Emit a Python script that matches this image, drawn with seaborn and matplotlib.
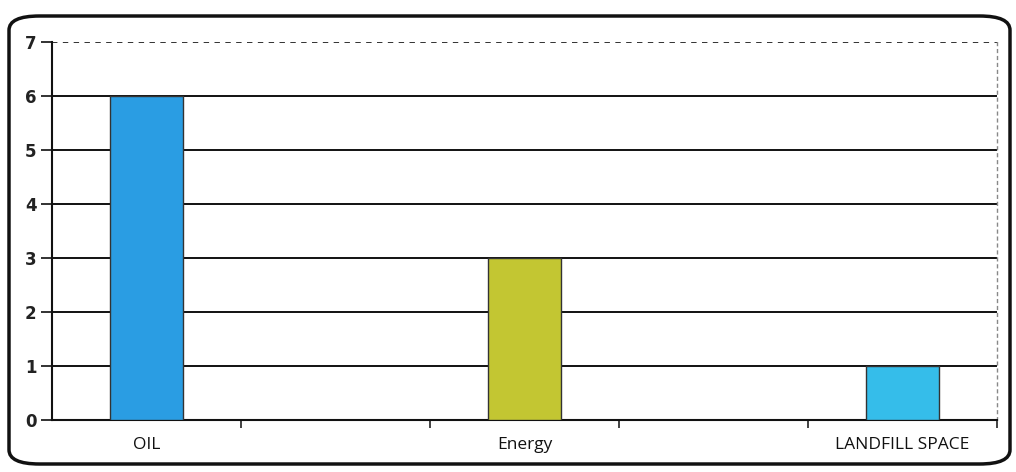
import numpy as np
import pandas as pd
import matplotlib
matplotlib.use("Agg")
import matplotlib.pyplot as plt
import seaborn as sns
from matplotlib.patches import FancyBboxPatch

# data
categories = ["OIL", "Energy", "LANDFILL SPACE"]
values = [6, 3, 1]
slot_order = ["OIL", " ", "Energy", "  ", "LANDFILL SPACE"]
bar_colors = ["#2a9de3", "#c3c632", "#35bdea"]
y_ticks = [0, 1, 2, 3, 4, 5, 6, 7]

sns.set_theme(style="white")
plt.rcParams["font.family"] = ["Open Sans", "DejaVu Sans"]

fig = plt.figure(figsize=(10.16, 4.72), dpi=100)
ax = fig.add_axes([52/1016, 1 - 420/472, (997-52)/1016, (420-42)/472])

df = pd.DataFrame({"cat": categories, "val": values})
sns.barplot(data=df, x="cat", y="val", order=slot_order, hue="cat",
            palette=dict(zip(categories, bar_colors)), legend=False, saturation=1,
            width=0.39, edgecolor="#333333", linewidth=1.0, ax=ax, zorder=3)

ax.set_ylim(0, 7)
ax.set_xlim(-0.5, 4.5)
ax.set_yticks(y_ticks)
ax.set_yticklabels([str(t) for t in y_ticks], fontsize=12, fontweight="bold",
                   color="#222222", family="DejaVu Sans")
for t in y_ticks[1:-1]:
    ax.axhline(t, color="#111111", linewidth=1.4, zorder=1)
ax.axhline(7, color="#222222", linewidth=1.3, linestyle=(0, (3, 3)), zorder=1)

ax.set_xlabel("")
ax.set_ylabel("")
ax.set_xticks([0, 2, 4])
ax.set_xticklabels(["OIL", "Energy", "LANDFILL SPACE"], fontsize=12.5, color="#111111")
ax.set_xticks([0.5, 1.5, 2.5, 3.5, 4.5], minor=True)
ax.tick_params(axis="x", which="major", bottom=False, length=0, pad=12)
ax.tick_params(axis="x", which="minor", bottom=True, length=6, width=1.2,
               color="#222222", direction="out")
ax.tick_params(axis="y", left=True, length=8, width=1.3, color="#222222",
               direction="out", pad=3)

for s in ["left", "bottom"]:
    ax.spines[s].set_color("#111111")
    ax.spines[s].set_linewidth(1.5)
ax.spines["top"].set_visible(False)
ax.spines["right"].set_color("#888888")
ax.spines["right"].set_linestyle((0, (2, 3)))
ax.spines["right"].set_linewidth(1.0)

frame = FancyBboxPatch((9/1016, 1 - 464/472), (1010-9)/1016, (464-16)/472,
                       boxstyle="round,pad=0,rounding_size=0.03",
                       transform=fig.transFigure, fill=False,
                       edgecolor="#111111", linewidth=2.5)
fig.patches.append(frame)

fig.savefig("out.png", dpi=100)
